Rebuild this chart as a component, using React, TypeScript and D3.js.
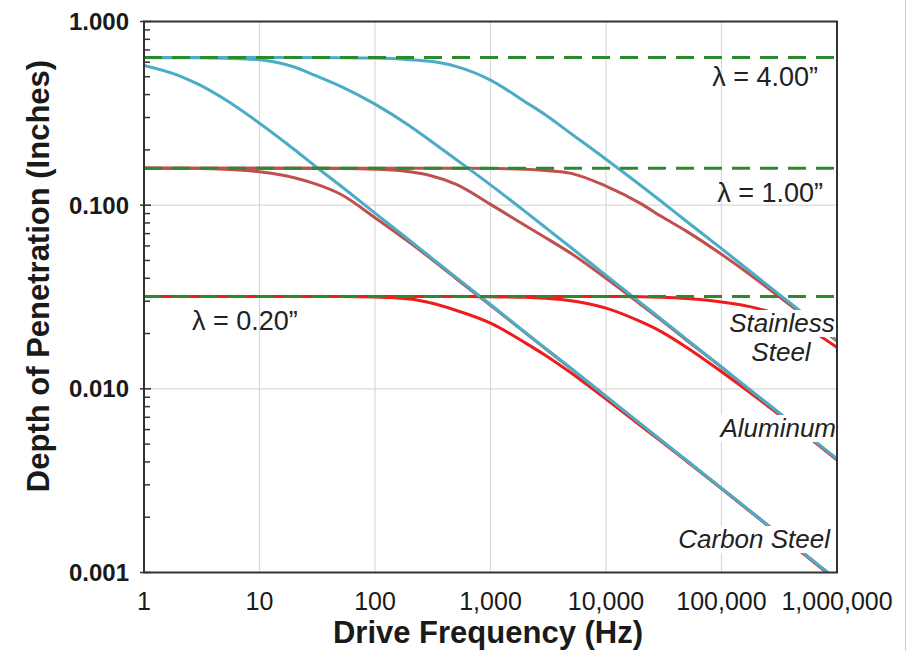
import React, { useEffect, useRef } from 'react';
import * as d3 from 'd3';

// ---------- data ----------
const frequencies = [1, 2, 3, 5, 10, 20, 30, 50, 100, 200, 300, 500, 1000, 2000, 3000, 5000, 10000, 20000, 30000, 50000, 100000, 200000, 300000, 500000, 1000000];

// lambda = 4.00" (cyan)
const carbonSteel4 = [0.577, 0.508, 0.453, 0.377, 0.2795, 0.201, 0.164, 0.128, 0.0905, 0.0642, 0.0524, 0.0406, 0.0288, 0.0203, 0.0166, 0.0129, 0.0091, 0.00643, 0.00525, 0.00407, 0.00288, 0.00203, 0.00166, 0.00129, 0.00091];
const aluminum4 = [0.636, 0.635, 0.634, 0.630, 0.620, 0.565, 0.51, 0.445, 0.355, 0.27, 0.225, 0.178, 0.129, 0.0922, 0.0755, 0.0586, 0.0415, 0.0294, 0.024, 0.0186, 0.01315, 0.0093, 0.0076, 0.00588, 0.00416];
const stainless4 = [0.637, 0.637, 0.637, 0.637, 0.636, 0.636, 0.636, 0.635, 0.632, 0.62, 0.607, 0.57, 0.48, 0.365, 0.31, 0.245, 0.178, 0.128, 0.105, 0.0815, 0.058, 0.041, 0.0335, 0.026, 0.0184];

// lambda = 1.00" (brown)
const carbonSteel1 = [0.159, 0.1588, 0.1585, 0.157, 0.152, 0.141, 0.131, 0.115, 0.0855, 0.0625, 0.0515, 0.04, 0.0285, 0.0202, 0.0165, 0.01285, 0.00908, 0.00642, 0.00524, 0.00406, 0.00287, 0.00203, 0.00166, 0.00129, 0.00091];
const aluminum1 = [0.159, 0.159, 0.159, 0.159, 0.1589, 0.1588, 0.1587, 0.1585, 0.157, 0.152, 0.145, 0.13, 0.101, 0.0775, 0.0665, 0.0545, 0.04, 0.0288, 0.0237, 0.0184, 0.0131, 0.0092, 0.0075, 0.00585, 0.00414];
const stainless1 = [0.159, 0.159, 0.159, 0.159, 0.159, 0.159, 0.159, 0.159, 0.159, 0.159, 0.1589, 0.1588, 0.1583, 0.157, 0.1545, 0.149, 0.127, 0.102, 0.087, 0.072, 0.054, 0.0395, 0.0325, 0.0255, 0.0182];

// lambda = 0.20" (red)
const carbonSteel02 = [0.0318, 0.0318, 0.0318, 0.0318, 0.0318, 0.0318, 0.0318, 0.0318, 0.0316, 0.0308, 0.0294, 0.0268, 0.0228, 0.0178, 0.0152, 0.0122, 0.0088, 0.0063, 0.00518, 0.00403, 0.00286, 0.00202, 0.00165, 0.00128, 0.0009];
const aluminum02 = [0.0318, 0.0318, 0.0318, 0.0318, 0.0318, 0.0318, 0.0318, 0.0318, 0.0318, 0.0318, 0.0318, 0.0318, 0.0317, 0.0315, 0.0311, 0.0302, 0.0275, 0.0232, 0.0205, 0.0168, 0.0124, 0.009, 0.0074, 0.0058, 0.0041];
const stainless02 = [0.0318, 0.0318, 0.0318, 0.0318, 0.0318, 0.0318, 0.0318, 0.0318, 0.0318, 0.0318, 0.0318, 0.0318, 0.0318, 0.0318, 0.0318, 0.0318, 0.0318, 0.0317, 0.0315, 0.031, 0.0297, 0.0275, 0.0255, 0.0222, 0.0168];

const xTicks = [1, 10, 100, 1000, 10000, 100000, 1000000];
const xTickLabels = ['1', '10', '100', '1,000', '10,000', '100,000', '1,000,000'];
const yTicks = [0.001, 0.01, 0.1, 1];
const yTickLabels = ['0.001', '0.010', '0.100', '1.000'];
const lambdaLevels = [0.637, 0.159, 0.0318];
const lambdaLabels = ['λ = 4.00”', 'λ = 1.00”', 'λ = 0.20”'];
const materialLabels = ['Stainless', 'Steel', 'Aluminum', 'Carbon Steel'];

const FONT = "'Liberation Sans', Arial, Helvetica, sans-serif";

export default function App() {
  const ref = useRef<SVGSVGElement | null>(null);

  useEffect(() => {
    const svg = d3.select(ref.current);
    svg.selectAll('*').remove();

    const left = 144, right = 837, top = 21.5, bottom = 572.5;
    const x = d3.scaleLog().domain([1, 1e6]).range([left, right]);
    const y = d3.scaleLog().domain([0.001, 1]).range([bottom, top]);

    svg.append('rect').attr('x', 0).attr('y', 0).attr('width', 913).attr('height', 651).attr('fill', '#fff');
    svg.append('line').attr('x1', 905.5).attr('x2', 905.5).attr('y1', 0).attr('y2', 651).attr('stroke', '#d0d0d0').attr('stroke-width', 1);

    svg.append('defs').append('clipPath').attr('id', 'plotClip')
      .append('rect').attr('x', left).attr('y', top).attr('width', right - left).attr('height', bottom - top);

    // grid
    const grid = svg.append('g');
    xTicks.slice(1, -1).forEach((t) => {
      grid.append('line').attr('x1', x(t)).attr('x2', x(t)).attr('y1', top).attr('y2', bottom)
        .attr('stroke', '#d9d9d9').attr('stroke-width', 1.2);
    });
    yTicks.slice(1, -1).forEach((t) => {
      grid.append('line').attr('x1', left).attr('x2', right).attr('y1', y(t)).attr('y2', y(t))
        .attr('stroke', '#d9d9d9').attr('stroke-width', 1.2);
    });

    const line = d3.line<number>()
      .x((_, i) => x(frequencies[i]))
      .y((d) => y(d))
      .curve(d3.curveMonotoneX);

    const plot = svg.append('g').attr('clip-path', 'url(#plotClip)');
    const series: { values: number[]; color: string }[] = [
      { values: carbonSteel02, color: '#ee1c1c' },
      { values: aluminum02, color: '#ee1c1c' },
      { values: stainless02, color: '#ee1c1c' },
      { values: carbonSteel1, color: '#c0504d' },
      { values: aluminum1, color: '#c0504d' },
      { values: stainless1, color: '#c0504d' },
      { values: carbonSteel4, color: '#4bacc6' },
      { values: aluminum4, color: '#4bacc6' },
      { values: stainless4, color: '#4bacc6' },
    ];
    series.forEach((s) => {
      plot.append('path').attr('d', line(s.values) as string)
        .attr('fill', 'none').attr('stroke', s.color).attr('stroke-width', 3)
        .attr('stroke-linejoin', 'round');
    });

    // dashed lambda lines
    lambdaLevels.forEach((lv) => {
      plot.append('line').attr('x1', left).attr('x2', right).attr('y1', y(lv)).attr('y2', y(lv))
        .attr('stroke', '#2b8a2b').attr('stroke-width', 3).attr('stroke-dasharray', '18,10');
    });

    // lambda labels
    const lab = svg.append('g').attr('font-family', FONT).attr('font-size', 27).attr('fill', '#222');
    const lamPos = [
      { x: 818, y: 86, anchor: 'end' },
      { x: 823, y: 202, anchor: 'end' },
      { x: 192, y: 330, anchor: 'start' },
    ];
    lambdaLabels.forEach((t, i) => {
      lab.append('text').attr('x', lamPos[i].x).attr('y', lamPos[i].y)
        .attr('text-anchor', lamPos[i].anchor).text(t);
    });

    // material labels with white boxes
    const matPos = [
      { x: 782, y: 332, anchor: 'middle' },
      { x: 781, y: 361, anchor: 'middle' },
      { x: 836, y: 437, anchor: 'end' },
      { x: 830, y: 548, anchor: 'end' },
    ];
    materialLabels.forEach((t, i) => {
      const g = svg.append('g');
      const txt = g.append('text').attr('x', matPos[i].x).attr('y', matPos[i].y)
        .attr('text-anchor', matPos[i].anchor).attr('font-family', FONT)
        .attr('font-size', 26).attr('font-style', 'italic').attr('fill', '#222').text(t);
      const bb = (txt.node() as SVGTextElement).getBBox();
      g.insert('rect', 'text').attr('x', bb.x - 1).attr('y', bb.y + 2).attr('width', bb.width + 2)
        .attr('height', bb.height - 3).attr('fill', '#fff');
    });

    // frame
    svg.append('rect').attr('x', left).attr('y', top).attr('width', right - left).attr('height', bottom - top)
      .attr('fill', 'none').attr('stroke', '#333').attr('stroke-width', 2);

    // y ticks
    const ticksG = svg.append('g').attr('stroke', '#333').attr('stroke-width', 1.5);
    [0.001, 0.01, 0.1].forEach((dec) => {
      for (let m = 2; m <= 9; m++) {
        const v = dec * m;
        ticksG.append('line').attr('x1', left).attr('x2', left + 6).attr('y1', y(v)).attr('y2', y(v));
      }
    });
    yTicks.forEach((t) => {
      ticksG.append('line').attr('x1', left - 4).attr('x2', left + 7).attr('y1', y(t)).attr('y2', y(t));
    });

    // axis labels
    const axG = svg.append('g').attr('font-family', FONT).attr('fill', '#1a1a1a');
    xTicks.forEach((t, i) => {
      axG.append('text').attr('x', x(t)).attr('y', 610).attr('text-anchor', 'middle')
        .attr('font-size', 25).text(xTickLabels[i]);
    });
    yTicks.forEach((t, i) => {
      axG.append('text').attr('x', 129).attr('y', y(t)).attr('dy', '0.36em').attr('text-anchor', 'end')
        .attr('font-size', 24).attr('font-weight', 'bold').text(yTickLabels[i]);
    });
    axG.append('text').attr('x', 488).attr('y', 643).attr('text-anchor', 'middle')
      .attr('font-size', 31).attr('font-weight', 'bold').text('Drive Frequency (Hz)');
    axG.append('text').attr('transform', 'translate(49,276) rotate(-90)').attr('text-anchor', 'middle')
      .attr('font-size', 31).attr('font-weight', 'bold').text('Depth of Penetration (Inches)');
  }, []);

  return (
    <svg ref={ref} width={913} height={651} style={{ position: 'absolute', left: 0, top: 0, display: 'block' }} />
  );
}
